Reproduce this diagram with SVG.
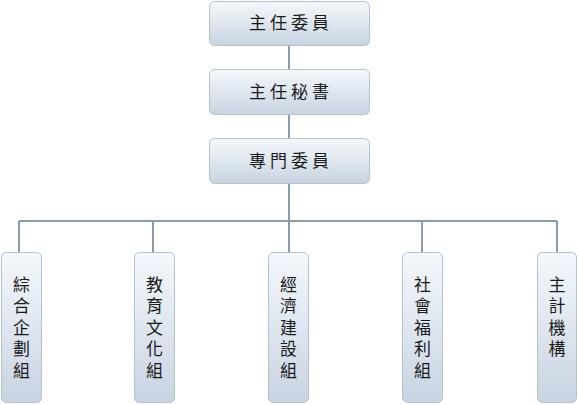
<svg xmlns="http://www.w3.org/2000/svg" width="578" height="405" viewBox="0 0 578 405">
<defs>
<linearGradient id="g" x1="0" y1="0" x2="0" y2="1">
<stop offset="0" stop-color="#f5f8fc"/>
<stop offset="1" stop-color="#c8d4e2"/>
</linearGradient>
<style>
.box{fill:url(#g);stroke:#b4c1d1;stroke-width:1}
.t{font-family:"Noto Sans CJK TC","Noto Sans CJK SC",sans-serif;font-size:17px;fill:#1a1a1a;text-anchor:middle}
.h{letter-spacing:4px}
.v{font-family:"Noto Sans CJK TC","Noto Sans CJK SC",sans-serif;font-size:17px;fill:#1a1a1a;writing-mode:vertical-rl;letter-spacing:4.5px}
.c{fill:none;stroke:#8a9cae;stroke-width:2}
</style>
</defs>
<rect width="578" height="405" fill="#ffffff"/>
<g id="connectors">
<path class="c" d="M289 46V69M289 115V138M289 184V252M19 221H557M19 221V252M153 221V252M422 221V252M557 221V252"/>
</g>
<g id="n1"><rect class="box" x="209.5" y="1.5" width="160" height="44" rx="5"/><text class="t h" x="291" y="29">主任委員</text></g>
<g id="n2"><rect class="box" x="209.5" y="69.5" width="160" height="45" rx="5"/><text class="t h" x="291" y="98">主任秘書</text></g>
<g id="n3"><rect class="box" x="209.5" y="138.5" width="160" height="45" rx="5"/><text class="t h" x="291" y="167">專門委員</text></g>
<g id="n4"><rect class="box" x="1.5" y="252.5" width="40" height="150" rx="5"/><text class="v" x="21.5" y="276">綜合企劃組</text></g>
<g id="n5"><rect class="box" x="134.5" y="252.5" width="40" height="150" rx="5"/><text class="v" x="154.5" y="276">教育文化組</text></g>
<g id="n6"><rect class="box" x="268.5" y="252.5" width="40" height="150" rx="5"/><text class="v" x="288.5" y="276">經濟建設組</text></g>
<g id="n7"><rect class="box" x="402.5" y="252.5" width="40" height="150" rx="5"/><text class="v" x="422.5" y="276">社會福利組</text></g>
<g id="n8"><rect class="box" x="537.5" y="252.5" width="39" height="150" rx="5"/><text class="v" x="557" y="276">主計機構</text></g>
</svg>
